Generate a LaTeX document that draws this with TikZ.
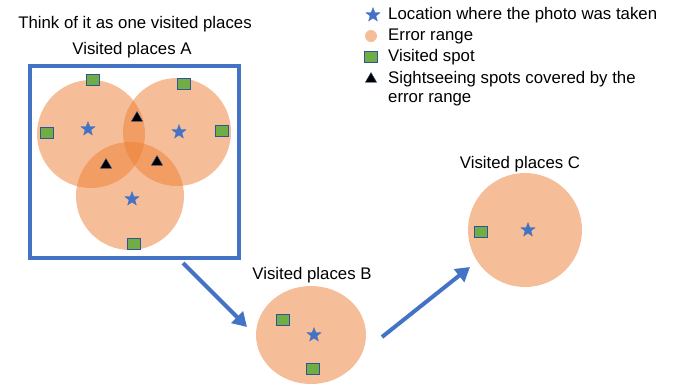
\documentclass[tikz,border=0pt]{standalone}
\usepackage{fontspec}
\setmainfont{Liberation Sans}
\usetikzlibrary{shapes.geometric,arrows.meta}
\definecolor{bblue}{HTML}{4472C4}
\definecolor{eorange}{HTML}{ED7D31}
\definecolor{sgreen}{HTML}{70AD47}
\definecolor{sedge}{HTML}{2F5597}
\tikzset{
  lbl/.style={font=\fontsize{16.8}{20}\selectfont, text=black, inner sep=0pt},
  errc/.style={fill=eorange, fill opacity=0.5, draw=none},
  errsolid/.style={fill=eorange!50!white, draw=none},
  photo/.style={star, star points=5, star point ratio=2.4, fill=bblue, draw=bblue, line width=0.3pt, minimum size=15pt, inner sep=0pt},
  spot/.style={rectangle, fill=sgreen, draw=sedge, line width=0.8pt, minimum width=12.5pt, minimum height=11.5pt, inner sep=0pt},
  cover/.style={regular polygon, regular polygon sides=3, fill=black, draw=sedge, line width=0.4pt, minimum size=13pt, inner sep=0pt},
  flow/.style={draw=bblue, line width=4pt, -{Triangle[length=14pt,width=16pt]}, shorten >=0pt}
}
\begin{document}
\begin{tikzpicture}[x=1pt,y=-1pt]
\useasboundingbox (0,0) rectangle (681,389);
% titles
\node[lbl] (think) at (135,24) {Think of it as one visited places};
\node[lbl] (tA) at (132,50) {Visited places A};
\node[lbl] (tB) at (312,275) {Visited places B};
\node[lbl] (tC) at (520,164) {Visited places C};
% box A
\node[draw=bblue, line width=4pt, minimum width=209pt, minimum height=192pt, inner sep=0pt] (boxA) at (134.5,162) {};
% error circles A
\fill[errc] (91,134) circle (54);
\fill[errc] (177,132) circle (54);
\fill[errc] (130,196) circle (54);
% B and C
\fill[errsolid] (311,335) ellipse (55 and 49);
\fill[errsolid] (525,230) circle (57);
% stars
\node[photo] (s1) at (88,129) {};
\node[photo] (s2) at (179,132) {};
\node[photo] (s3) at (132,199) {};
\node[photo] (sB) at (314,335) {};
\node[photo] (sC) at (528,230) {};
% spots
\node[spot] (v1) at (93,80) {};
\node[spot] (v2) at (184,84) {};
\node[spot] (v3) at (47,133) {};
\node[spot] (v4) at (222,131) {};
\node[spot] (v5) at (134,244) {};
\node[spot] (vB1) at (283,320) {};
\node[spot] (vB2) at (313,369) {};
\node[spot] (vC1) at (481,232) {};
% covered
\node[cover] (c1) at (137,118) {};
\node[cover] (c2) at (106,165) {};
\node[cover] (c3) at (157,162) {};
% arrows
\coordinate (a1s) at (183,263);
\coordinate (a1e) at (247,327);
\coordinate (a2s) at (382,337);
\coordinate (a2e) at (470,267);
\draw[flow] (a1s) -- (a1e);
\draw[flow] (a2s) -- (a2e);
% legend
\node[photo] (lgs) at (373,15) {};
\node[lbl, anchor=west] (lgt1) at (388,15) {Location where the photo was taken};
\node[circle, fill=eorange!50!white, minimum size=12pt, inner sep=0pt] (lgc) at (371,36) {};
\node[lbl, anchor=west] (lgt2) at (388,36) {Error range};
\node[spot] (lgq) at (371,57) {};
\node[lbl, anchor=west] (lgt3) at (388,57) {Visited spot};
\node[cover] (lgtr) at (371,79) {};
\node[lbl, anchor=west] (lgt4) at (388,79) {Sightseeing spots covered by the};
\node[lbl, anchor=west] (lgt5) at (388,100) {error range};
\end{tikzpicture}
\end{document}
